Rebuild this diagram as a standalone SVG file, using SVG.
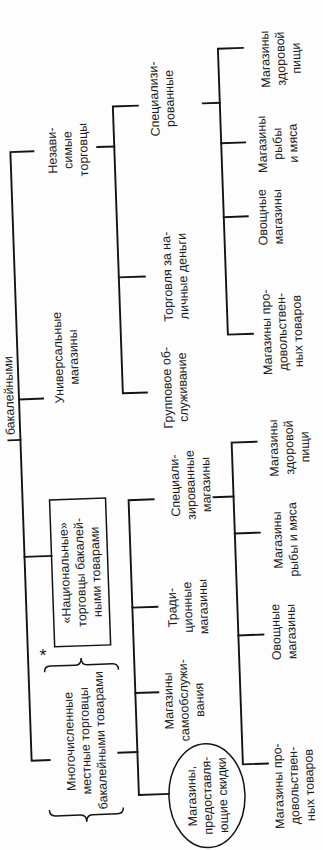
<svg xmlns="http://www.w3.org/2000/svg" width="323" height="850" viewBox="0 0 323 850">
<style>
.t{font-family:"Liberation Sans",Arial,sans-serif;font-size:12.5px;fill:#1a1a1a;text-anchor:middle}
.c{stroke:#141414;stroke-width:1.9;fill:none;stroke-linecap:square}
.b{stroke:#141414;stroke-width:1.5;fill:none}
</style>
<rect width="323" height="850" fill="#fdfdfd"/>
<g transform="rotate(-2 161 425)">
<g id="connectors">
<path class="c" d="M43,147 H20 V756 H38"/>
<path class="c" d="M8,435 H20"/>
<path class="c" d="M20,394.5 H44"/>
<path class="c" d="M20,552 H47"/>
<path class="c" d="M149,105 H124 V392 H148"/>
<path class="c" d="M107,145 H124"/>
<path class="c" d="M124,276 H150"/>
<path class="c" d="M214,105 H231"/>
<path class="c" d="M256,51 H231 V337 H256"/>
<path class="c" d="M231,145.5 H255"/>
<path class="c" d="M231,219.5 H255"/>
<path class="c" d="M151,499 H126 V794 H156"/>
<path class="c" d="M126,606.5 H151"/>
<path class="c" d="M126,692 H149"/>
<path class="c" d="M107,751 H126"/>
<path class="c" d="M211,499 H231"/>
<path class="c" d="M256,445 H231 V767 H256"/>
<path class="c" d="M231,536 H256"/>
<path class="c" d="M231,638 H256"/>
</g>
<g id="root" transform="translate(14.5,430) rotate(-90)"><text class="t" style="text-anchor:start"><tspan x="0" y="0">бакалейными</tspan></text></g>
<g id="n-nezavisimye" transform="translate(77,147) rotate(-90)"><text class="t"><tspan x="0" y="-11">Незави-</tspan><tspan x="0" y="4.5">симые</tspan><tspan x="0" y="20">торговцы</tspan></text></g>
<g id="n-universal" transform="translate(68,354) rotate(-90)"><text class="t"><tspan x="0" y="-3.3">Универсальные</tspan><tspan x="0" y="12.2">магазины</tspan></text></g>
<g id="n-national">
<rect class="b" x="47" y="496" width="56" height="147"/>
<g transform="translate(75,569.5) rotate(-90)"><text class="t"><tspan x="0" y="-11">«Национальные»</tspan><tspan x="0" y="4.5">торговцы бакалей-</tspan><tspan x="0" y="20">ными товарами</tspan></text></g>
</g>
<text class="t" x="35" y="657" style="font-size:18px">*</text>
<g id="n-mnogo">
<path class="b" d="M36,668 Q36,662 42,662 L67,662 Q73,662 73,655 Q73,662 79,662 L104,662 Q110,662 110,668"/>
<path class="b" d="M36,806 Q36,812 42,812 L67,812 Q73,812 73,819 Q73,812 79,812 L104,812 Q110,812 110,806"/>
<g transform="translate(74,738) rotate(-90)"><text class="t"><tspan x="0" y="-11">Многочисленные</tspan><tspan x="0" y="4.5">местные торговцы</tspan><tspan x="0" y="20">бакалейными товарами</tspan></text></g>
</g>
<g id="n-spec1" transform="translate(173,99) rotate(-90)"><text class="t"><tspan x="0" y="-3.3">Специализи-</tspan><tspan x="0" y="12.2">рованные</tspan></text></g>
<g id="n-cash" transform="translate(180,277) rotate(-90)"><text class="t"><tspan x="0" y="-3.3">Торговля за на-</tspan><tspan x="0" y="12.2">личные деньги</tspan></text></g>
<g id="n-group" transform="translate(176,388) rotate(-90)"><text class="t"><tspan x="0" y="-3.3">Групповое об-</tspan><tspan x="0" y="12.2">служивание</tspan></text></g>
<g id="n-health1" transform="translate(293,63) rotate(-90)"><text class="t"><tspan x="0" y="-11">Магазины</tspan><tspan x="0" y="4.5">здоровой</tspan><tspan x="0" y="20">пищи</tspan></text></g>
<g id="n-fish1" transform="translate(287,148) rotate(-90)"><text class="t"><tspan x="0" y="-11">Магазины</tspan><tspan x="0" y="4.5">рыбы</tspan><tspan x="0" y="20">и мяса</tspan></text></g>
<g id="n-veg1" transform="translate(277,221) rotate(-90)"><text class="t"><tspan x="0" y="-3.3">Овощные</tspan><tspan x="0" y="12.2">магазины</tspan></text></g>
<g id="n-food1" transform="translate(285,336) rotate(-90)"><text class="t"><tspan x="0" y="-11">Магазины про-</tspan><tspan x="0" y="4.5">довольствен-</tspan><tspan x="0" y="20">ных товаров</tspan></text></g>
<g id="n-spec2" transform="translate(188,486) rotate(-90)"><text class="t"><tspan x="0" y="-11">Специали-</tspan><tspan x="0" y="4.5">зированные</tspan><tspan x="0" y="20">магазины</tspan></text></g>
<g id="n-trad" transform="translate(181,608) rotate(-90)"><text class="t"><tspan x="0" y="-11">Тради-</tspan><tspan x="0" y="4.5">ционные</tspan><tspan x="0" y="20">магазины</tspan></text></g>
<g id="n-self" transform="translate(174,701) rotate(-90)"><text class="t"><tspan x="0" y="-11">Магазины</tspan><tspan x="0" y="4.5">самообслужи-</tspan><tspan x="0" y="20">вания</tspan></text></g>
<g id="n-discount">
<ellipse class="b" cx="194" cy="797" rx="38" ry="52"/>
<g transform="translate(194,797) rotate(-90)"><text class="t"><tspan x="0" y="-11">Магазины,</tspan><tspan x="0" y="4.5">предоставля-</tspan><tspan x="0" y="20">ющие скидки</tspan></text></g>
</g>
<g id="n-health2" transform="translate(288,452) rotate(-90)"><text class="t"><tspan x="0" y="-11">Магазины</tspan><tspan x="0" y="4.5">здоровой</tspan><tspan x="0" y="20">пищи</tspan></text></g>
<g id="n-fish2" transform="translate(281,544) rotate(-90)"><text class="t"><tspan x="0" y="-3.3">Магазины</tspan><tspan x="0" y="12.2">рыбы и мяса</tspan></text></g>
<g id="n-veg2" transform="translate(276,636) rotate(-90)"><text class="t"><tspan x="0" y="-3.3">Овощные</tspan><tspan x="0" y="12.2">магазины</tspan></text></g>
<g id="n-food2" transform="translate(281,790) rotate(-90)"><text class="t"><tspan x="0" y="-11">Магазины про-</tspan><tspan x="0" y="4.5">довольствен-</tspan><tspan x="0" y="20">ных товаров</tspan></text></g>
</g>
</svg>
